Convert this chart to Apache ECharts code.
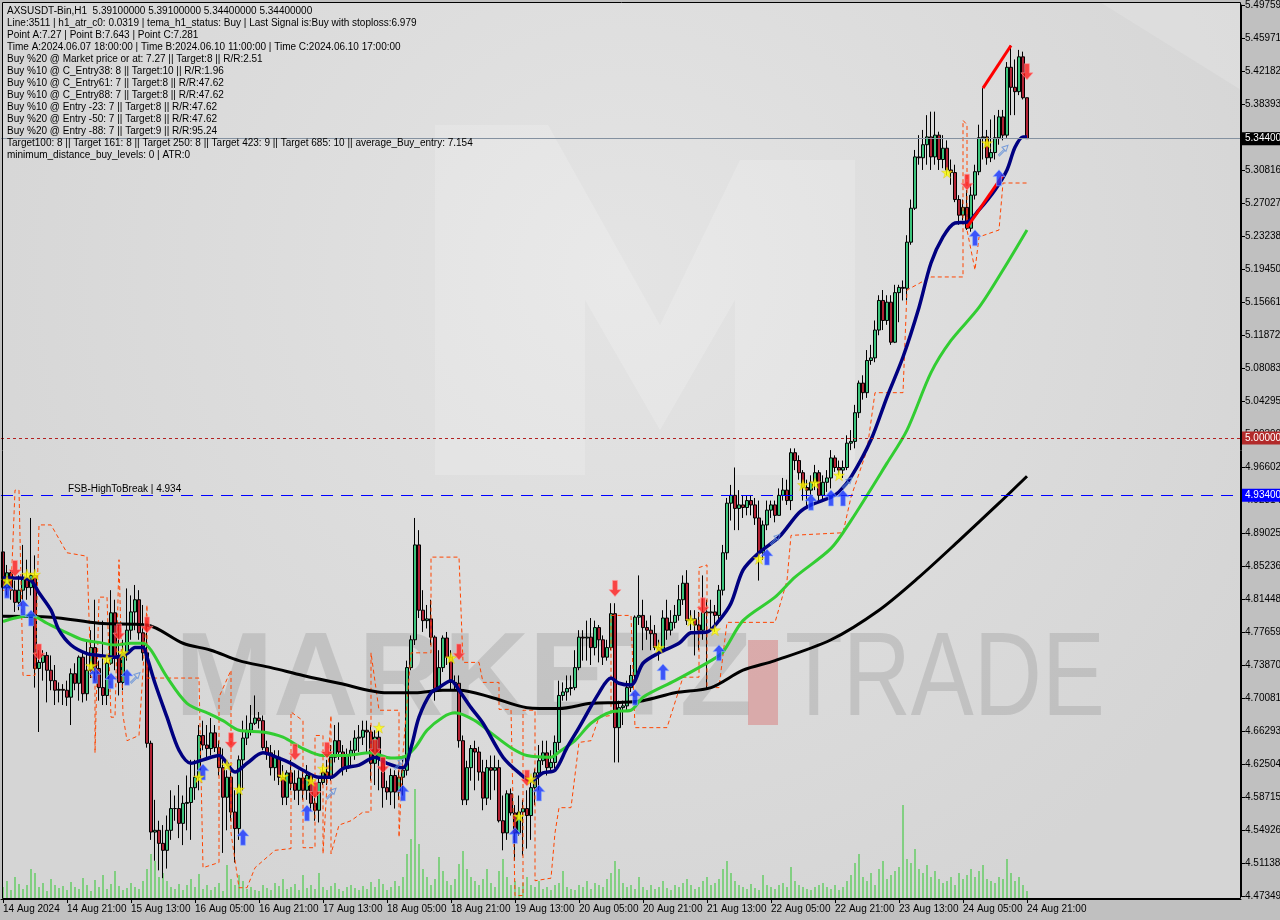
<!DOCTYPE html>
<html><head><meta charset="utf-8">
<script src="https://cdn.jsdelivr.net/npm/echarts@6/dist/echarts.min.js"></script>
<style>html,body{margin:0;padding:0;background:#c0c0c0}#c{width:1280px;height:920px}</style>
</head><body><div id="c"></div>
<script>
const timeTicks = ['14 Aug 2024','14 Aug 21:00','15 Aug 13:00','16 Aug 05:00','16 Aug 21:00','17 Aug 13:00','18 Aug 05:00','18 Aug 21:00','19 Aug 13:00','20 Aug 05:00','20 Aug 21:00','21 Aug 13:00','22 Aug 05:00','22 Aug 21:00','23 Aug 13:00','24 Aug 05:00','24 Aug 21:00'];
const yTickLabels = ['4.473494','4.511381','4.549268','4.587156','4.625043','4.662930','4.700818','4.738705','4.776593','4.814480','4.852367','4.890254','4.928147','4.966021','5.003909','5.042950','5.080839','5.118726','5.156613','5.194500','5.232388','5.270275','5.308162','5.346050','5.383937','5.421824','5.459712','5.497599'];
const firstOpen = 4.869;
const closes = [4.828,4.845,4.825,4.811,4.825,4.839,4.828,4.842,4.735,4.742,
4.750,4.733,4.721,4.710,4.711,4.710,4.702,4.729,4.718,4.748,
4.706,4.733,4.759,4.735,4.713,4.704,4.741,4.799,4.748,4.719,
4.753,4.779,4.800,4.814,4.776,4.753,4.649,4.547,4.549,4.534,
4.526,4.549,4.574,4.574,4.557,4.580,4.581,4.598,4.610,4.658,
4.647,4.643,4.661,4.644,4.621,4.587,4.610,4.570,4.551,4.630,
4.655,4.664,4.672,4.678,4.675,4.644,4.638,4.621,4.633,4.610,
4.587,4.615,4.603,4.595,4.609,4.595,4.612,4.580,4.572,4.604,
4.616,4.609,4.633,4.652,4.639,4.620,4.635,4.641,4.655,4.656,
4.664,4.662,4.626,4.656,4.632,4.598,4.593,4.612,4.593,4.610,
4.618,4.736,4.768,4.877,4.802,4.790,4.792,4.771,4.712,4.736,
4.770,4.748,4.719,4.718,4.652,4.584,4.621,4.643,4.639,4.616,
4.586,4.621,4.618,4.621,4.560,4.546,4.591,4.569,4.546,4.570,
4.574,4.566,4.598,4.615,4.629,4.638,4.621,4.627,4.650,4.704,
4.708,4.712,4.713,4.736,4.771,4.770,4.771,4.759,4.782,4.768,
4.748,4.759,4.798,4.667,4.690,4.692,4.713,4.727,4.794,4.796,
4.782,4.779,4.775,4.759,4.756,4.793,4.779,4.788,4.796,4.814,
4.833,4.790,4.792,4.785,4.779,4.800,4.799,4.800,4.796,4.825,
4.868,4.925,4.934,4.919,4.923,4.920,4.928,4.923,4.908,4.868,
4.900,4.917,4.923,4.911,4.934,4.940,4.928,4.983,4.974,4.960,
4.943,4.940,4.949,4.960,4.934,4.949,4.954,4.977,4.966,4.963,
4.966,4.994,4.996,5.029,5.063,5.052,5.089,5.092,5.124,5.158,
5.135,5.156,5.110,5.167,5.173,5.172,5.225,5.264,5.323,5.322,
5.337,5.346,5.323,5.348,5.320,5.333,5.308,5.305,5.274,5.256,
5.265,5.241,5.279,5.306,5.345,5.346,5.322,5.328,5.345,5.369,
5.348,5.426,5.403,5.398,5.438,5.391,5.344];
const highs = [4.894,4.854,4.848,4.836,4.842,4.877,4.860,4.908,4.865,4.756,
4.756,4.754,4.750,4.739,4.719,4.717,4.721,4.735,4.741,4.750,
4.754,4.768,4.779,4.814,4.744,4.790,4.750,4.825,4.814,4.785,
4.768,4.827,4.819,4.831,4.825,4.808,4.785,4.652,4.584,4.560,
4.555,4.566,4.595,4.589,4.601,4.589,4.612,4.630,4.630,4.670,
4.675,4.670,4.678,4.670,4.652,4.643,4.618,4.624,4.595,4.635,
4.675,4.681,4.693,4.704,4.685,4.681,4.652,4.647,4.641,4.641,
4.624,4.618,4.630,4.618,4.618,4.618,4.624,4.612,4.589,4.609,
4.624,4.630,4.647,4.670,4.673,4.647,4.643,4.652,4.664,4.670,
4.675,4.675,4.670,4.664,4.664,4.635,4.606,4.620,4.618,4.618,
4.630,4.744,4.773,4.908,4.894,4.825,4.808,4.814,4.773,4.756,
4.773,4.777,4.756,4.727,4.727,4.658,4.629,4.647,4.652,4.645,
4.630,4.630,4.635,4.635,4.630,4.589,4.595,4.597,4.578,4.589,
4.584,4.595,4.606,4.620,4.647,4.652,4.652,4.641,4.658,4.721,
4.719,4.727,4.727,4.756,4.779,4.779,4.790,4.793,4.790,4.785,
4.773,4.768,4.810,4.810,4.698,4.698,4.721,4.739,4.796,4.842,
4.814,4.790,4.796,4.785,4.768,4.802,4.814,4.802,4.808,4.831,
4.842,4.848,4.802,4.802,4.800,4.842,4.814,4.814,4.808,4.831,
4.877,4.931,4.946,4.966,4.940,4.934,4.934,4.934,4.931,4.928,
4.905,4.928,4.928,4.928,4.942,4.954,4.952,4.988,4.988,4.980,
4.963,4.952,4.957,4.969,4.963,4.957,4.963,4.986,4.980,4.974,
4.974,5.003,5.009,5.038,5.066,5.072,5.101,5.107,5.135,5.164,
5.170,5.164,5.164,5.176,5.176,5.181,5.233,5.274,5.331,5.348,
5.354,5.371,5.375,5.375,5.352,5.348,5.342,5.320,5.314,5.279,
5.274,5.285,5.291,5.314,5.360,5.402,5.354,5.366,5.371,5.377,
5.377,5.432,5.451,5.435,5.446,5.444,5.391];
const lows = [4.823,4.819,4.814,4.800,4.802,4.814,4.814,4.819,4.713,4.662,
4.721,4.696,4.710,4.693,4.696,4.693,4.692,4.670,4.710,4.698,
4.696,4.698,4.724,4.721,4.698,4.693,4.693,4.739,4.733,4.704,
4.710,4.744,4.768,4.779,4.768,4.744,4.644,4.538,4.514,4.503,
4.494,4.505,4.538,4.560,4.540,4.532,4.549,4.538,4.584,4.595,
4.641,4.630,4.635,4.639,4.612,4.523,4.549,4.560,4.512,4.538,
4.595,4.647,4.658,4.670,4.666,4.641,4.630,4.612,4.606,4.601,
4.578,4.578,4.595,4.584,4.578,4.584,4.584,4.572,4.560,4.558,
4.601,4.601,4.606,4.627,4.630,4.612,4.616,4.624,4.630,4.639,
4.647,4.639,4.606,4.601,4.595,4.575,4.584,4.578,4.574,4.584,
4.589,4.612,4.733,4.762,4.793,4.777,4.781,4.762,4.698,4.708,
4.731,4.739,4.710,4.710,4.644,4.578,4.578,4.606,4.595,4.606,
4.572,4.578,4.584,4.595,4.558,4.526,4.538,4.566,4.514,4.543,
4.520,4.528,4.538,4.578,4.595,4.624,4.612,4.618,4.620,4.641,
4.698,4.698,4.704,4.710,4.733,4.744,4.744,4.739,4.750,4.742,
4.739,4.744,4.756,4.627,4.627,4.670,4.687,4.708,4.721,4.785,
4.756,4.768,4.756,4.756,4.744,4.754,4.768,4.773,4.781,4.790,
4.808,4.785,4.779,4.750,4.756,4.768,4.712,4.779,4.777,4.790,
4.819,4.860,4.905,4.894,4.894,4.908,4.911,4.911,4.900,4.836,
4.860,4.894,4.908,4.903,4.911,4.928,4.923,4.917,4.963,4.952,
4.928,4.919,4.934,4.940,4.928,4.928,4.938,4.942,4.961,4.957,
4.954,4.963,4.986,4.988,5.023,5.044,5.046,5.084,5.087,5.118,
5.124,5.130,5.107,5.109,5.133,5.158,5.158,5.222,5.262,5.314,
5.308,5.314,5.308,5.314,5.308,5.310,5.302,5.291,5.271,5.245,
5.250,5.239,5.237,5.274,5.302,5.320,5.314,5.317,5.320,5.337,
5.342,5.345,5.371,5.371,5.394,5.389,5.344];
const volumes = [12,18,9,22,15,10,14,30,26,12,16,8,20,14,11,13,
9,17,12,10,21,14,8,19,12,24,10,15,28,13,9,11,
16,12,10,18,30,45,38,22,26,18,12,10,15,9,14,20,
12,25,10,14,9,12,16,8,34,20,14,24,18,10,12,9,
8,14,11,9,16,13,20,10,12,15,9,24,11,14,10,26,
12,9,13,16,10,8,12,14,11,9,13,10,17,12,20,15,
9,12,18,13,22,45,60,110,55,30,22,14,20,42,28,18,
14,20,35,48,30,22,18,14,20,30,16,12,28,40,22,14,
18,12,16,22,14,12,18,10,12,9,14,16,28,12,10,9,
14,12,18,10,16,14,12,20,26,38,30,16,12,14,10,22,
12,9,14,10,12,18,11,9,14,12,16,20,14,10,12,18,
22,14,16,20,30,38,26,18,14,12,10,15,11,9,24,14,
12,10,14,16,12,32,18,14,12,10,9,12,14,16,12,10,
14,9,12,18,24,36,45,22,18,26,14,30,38,20,24,28,
32,94,40,36,50,30,26,34,22,28,20,16,18,22,14,26,
20,24,30,22,28,34,20,18,16,22,20,40,26,18,22,14,
8];
const maSlow = [[0,4.795],[12,4.794],[24,4.787],[36,4.785],[45,4.764],[52,4.756],[59,4.744],[67,4.736],[75,4.727],[84,4.718],[96,4.707],[103,4.707],[110,4.710],[114,4.710],[122,4.702],[131,4.690],[139,4.689],[147,4.695],[154,4.696],[160,4.698],[168,4.707],[177,4.713],[185,4.733],[193,4.744],[207,4.768],[219,4.802],[229,4.840],[239,4.882],[249,4.925],[256,4.956]];
const maMid = [[0,4.789],[3,4.793],[7,4.796],[11,4.787],[16,4.776],[20,4.768],[24,4.765],[28,4.762],[32,4.764],[35,4.764],[37,4.756],[41,4.725],[46,4.695],[52,4.682],[55,4.675],[59,4.664],[65,4.662],[70,4.656],[75,4.643],[80,4.635],[85,4.635],[92,4.638],[97,4.632],[100,4.633],[103,4.644],[106,4.664],[110,4.679],[113,4.684],[118,4.675],[122,4.661],[127,4.644],[131,4.635],[137,4.633],[139,4.639],[143,4.652],[147,4.672],[152,4.685],[157,4.687],[160,4.702],[168,4.721],[177,4.744],[180,4.754],[185,4.790],[193,4.817],[198,4.840],[207,4.873],[212,4.905],[221,4.971],[226,5.009],[232,5.075],[237,5.112],[244,5.150],[250,5.193],[256,5.239]];
const maFast = [[0,4.839],[4,4.839],[7,4.836],[9,4.822],[12,4.802],[14,4.779],[17,4.762],[21,4.752],[24,4.750],[28,4.748],[31,4.752],[33,4.759],[35,4.759],[36,4.748],[38,4.718],[41,4.679],[44,4.641],[47,4.626],[50,4.630],[54,4.635],[58,4.616],[61,4.626],[65,4.638],[69,4.632],[72,4.626],[75,4.618],[79,4.610],[82,4.610],[85,4.620],[89,4.624],[93,4.633],[96,4.626],[100,4.621],[102,4.644],[104,4.679],[107,4.707],[109,4.713],[112,4.721],[114,4.710],[117,4.690],[120,4.672],[125,4.633],[129,4.615],[132,4.606],[135,4.615],[138,4.618],[141,4.644],[144,4.667],[149,4.707],[152,4.724],[154,4.718],[157,4.716],[160,4.741],[164,4.753],[169,4.764],[172,4.776],[176,4.777],[179,4.790],[182,4.810],[185,4.848],[189,4.868],[194,4.886],[199,4.914],[202,4.923],[207,4.932],[209,4.938],[212,4.955],[217,4.998],[221,5.047],[225,5.093],[229,5.150],[232,5.201],[235,5.231],[238,5.247],[241,5.248],[244,5.262],[248,5.285],[251,5.308],[253,5.334],[255,5.346],[256,5.346]];
const stopLine = [[0,4.825],[2,4.825],[3,4.940],[4,4.940],[5,4.727],[8,4.727],[9,4.900],[12,4.900],[16,4.868],[21,4.864],[22,4.725],[23,4.725],[23,4.638],[24,4.817],[26,4.817],[27,4.679],[28,4.679],[29,4.860],[30,4.681],[31,4.652],[34,4.658],[36,4.808],[36,4.724],[49,4.724],[50,4.506],[54,4.512],[54,4.702],[57,4.733],[57,4.546],[59,4.483],[61,4.483],[63,4.506],[68,4.526],[72,4.528],[72,4.685],[75,4.675],[75,4.529],[78,4.529],[78,4.658],[80,4.658],[80,4.522],[82,4.681],[82,4.522],[84,4.555],[87,4.560],[90,4.570],[92,4.570],[92,4.753],[94,4.687],[99,4.687],[99,4.541],[100,4.638],[102,4.753],[107,4.753],[107,4.863],[114,4.863],[115,4.742],[119,4.742],[120,4.719],[124,4.719],[124,4.688],[127,4.688],[128,4.474],[130,4.474],[130,4.687],[133,4.687],[133,4.491],[137,4.494],[138,4.546],[139,4.575],[142,4.575],[144,4.650],[147,4.652],[149,4.679],[152,4.681],[152,4.796],[157,4.796],[158,4.667],[166,4.667],[170,4.725],[174,4.725],[174,4.851],[176,4.854],[176,4.713],[179,4.713],[181,4.788],[193,4.788],[196,4.836],[197,4.888],[210,4.891],[212,4.932],[216,4.986],[218,5.052],[225,5.052],[226,5.170],[232,5.185],[240,5.185],[240,5.365],[241,5.360],[241,5.239],[243,5.193],[244,5.231],[249,5.239],[250,5.293],[256,5.293]];
const upArrows = [[1,4.825],[5,4.805],[7,4.793],[23,4.727],[27,4.721],[31,4.725],[50,4.616],[60,4.541],[76,4.569],[100,4.592],[128,4.543],[134,4.592],[158,4.702],[165,4.731],[179,4.753],[191,4.863],[202,4.926],[207,4.931],[210,4.931],[243,5.230],[249,5.299]];
const downArrows = [[3,4.850],[9,4.754],[29,4.777],[36,4.785],[57,4.652],[73,4.639],[78,4.595],[81,4.641],[93,4.644],[95,4.624],[114,4.754],[131,4.609],[153,4.827],[175,4.807],[241,5.294],[256,5.421]];
const hollowArrows = [[33,4.724],[82,4.591],[99,4.625],[193,4.883],[211,4.948],[250,5.330]];
const stars = [[1,4.836],[6,4.843],[8,4.843],[22,4.738],[26,4.746],[30,4.753],[49,4.610],[56,4.624],[59,4.596],[70,4.611],[77,4.606],[80,4.620],[94,4.667],[112,4.747],[129,4.565],[132,4.608],[164,4.759],[172,4.790],[178,4.779],[189,4.861],[200,4.946],[203,4.948],[209,4.957],[236,5.305],[246,5.339]];
const trendLineA = [[245,5.402],[252,5.451]];
const trendLineB = [[241,5.242],[250,5.302]];
const currentPrice = 5.344, roundLevel = 5.0, fsbLevel = 4.934;
const infoLines = [
'AXSUSDT-Bin,H1  5.39100000 5.39100000 5.34400000 5.34400000',
'Line:3511 | h1_atr_c0: 0.0319 | tema_h1_status: Buy | Last Signal is:Buy with stoploss:6.979',
'Point A:7.27 | Point B:7.643 | Point C:7.281',
'Time A:2024.06.07 18:00:00 | Time B:2024.06.10 11:00:00 | Time C:2024.06.10 17:00:00',
'Buy %20 @ Market price or at: 7.27 || Target:8 || R/R:2.51',
'Buy %10 @ C_Entry38: 8 || Target:10 || R/R:1.96',
'Buy %10 @ C_Entry61: 7 || Target:8 || R/R:47.62',
'Buy %10 @ C_Entry88: 7 || Target:8 || R/R:47.62',
'Buy %10 @ Entry -23: 7 || Target:8 || R/R:47.62',
'Buy %20 @ Entry -50: 7 || Target:8 || R/R:47.62',
'Buy %20 @ Entry -88: 7 || Target:9 || R/R:95.24',
'Target100: 8 || Target 161: 8 || Target 250: 8 || Target 423: 9 || Target 685: 10 || average_Buy_entry: 7.154',
'minimum_distance_buy_levels: 0 | ATR:0'
];

const N_CAT = 310;
const cats = Array.from({length: N_CAT}, (_, i) => i);
const candleData = closes.map((c, i) => [i === 0 ? firstOpen : closes[i - 1], c, lows[i], highs[i]]);
const yMin = 4.473494, yStep = 0.0379297, yMax = yMin + 27 * yStep;
const isLabelIdx = (i) => i % 16 === 0 && i <= 256;
const FONT = '"Liberation Sans", Arial, sans-serif';
const UP = 'path://M5 0 L10 5.5 L7 5.5 L7 13 L3 13 L3 5.5 L0 5.5 Z';
const DOWN = 'path://M3 0 L7 0 L7 7.5 L10 7.5 L5 13 L0 7.5 L3 7.5 Z';
const HOLLOW = 'path://M0 10 L6 4 L4 2 L10 0 L8 6 L6 4 M1 11 L7 5';
const STAR = 'path://M5 0 L6.2 3.6 L10 3.6 L6.9 5.9 L8.1 9.5 L5 7.3 L1.9 9.5 L3.1 5.9 L0 3.6 L3.8 3.6 Z';

const chart = echarts.init(document.getElementById('c'), null, {renderer: 'canvas', width: 1280, height: 920});
const lvlLabel = (bg) => ({show: true, position: 'end', distance: 1, formatter: (p) => Number(p.data.yAxis).toFixed(6), color: '#fff', backgroundColor: bg, padding: [2, 3, 1, 3], fontSize: 10, fontFamily: FONT});
chart.setOption({
  backgroundColor: '#c0c0c0',
  animation: false,
  grid: [
    {left: 1, right: 39, top: 5, bottom: 24, containLabel: false, outerBoundsMode: 'none'},
    {left: 1, right: 39, top: 699, bottom: 21, containLabel: false, outerBoundsMode: 'none'}
  ],
  xAxis: [
    {type: 'category', data: cats, gridIndex: 0, boundaryGap: true, axisLine: {show: false}, axisTick: {show: false}, axisLabel: {show: false}, splitLine: {show: false}},
    {type: 'category', data: cats, gridIndex: 1, boundaryGap: true,
      axisLine: {show: true, lineStyle: {color: '#000', width: 1}},
      axisTick: {show: true, alignWithLabel: true, interval: (i) => isLabelIdx(i), length: 4, lineStyle: {color: '#000'}},
      axisLabel: {interval: (i) => isLabelIdx(i), formatter: (v) => timeTicks[Math.round(Number(v) / 16)] || '', align: 'left', margin: 5, color: '#000', fontSize: 10, fontFamily: FONT, hideOverlap: false},
      splitLine: {show: false}}
  ],
  yAxis: [
    {type: 'value', gridIndex: 0, position: 'right', min: yMin, max: yMax, interval: yStep,
      axisLine: {show: true, lineStyle: {color: '#000'}},
      axisTick: {show: true, length: 4, lineStyle: {color: '#000'}},
      axisLabel: {formatter: (v) => yTickLabels[Math.round((v - yMin) / yStep)] || '', margin: 4, color: '#000', fontSize: 10, fontFamily: FONT, hideOverlap: false},
      splitLine: {show: false}},
    {type: 'value', gridIndex: 1, min: 0, max: 200, show: false}
  ],
  series: [
    {type: 'bar', xAxisIndex: 1, yAxisIndex: 1, data: volumes, barWidth: 1, itemStyle: {color: '#2ec82e'}, z: 1, silent: true},
    {type: 'candlestick', xAxisIndex: 0, yAxisIndex: 0, data: candleData, barWidth: 3,
      itemStyle: {color: '#3cc47c', color0: '#b22234', borderColor: '#000', borderColor0: '#000', borderWidth: 1}, z: 2,
      markLine: {symbol: 'none', silent: true, animation: false, precision: 6, data: [
        {yAxis: currentPrice, lineStyle: {color: '#8491a0', type: 'solid', width: 1}, label: lvlLabel('#000')},
        {yAxis: roundLevel, lineStyle: {color: '#b22222', type: [3, 3], width: 1}, label: lvlLabel('#b22a2a')},
        {yAxis: fsbLevel, lineStyle: {color: '#0000ff', type: [12, 8], width: 1}, label: lvlLabel('#0000ff')}
      ]}},
    {type: 'line', data: stopLine, symbol: 'none', lineStyle: {color: '#ff4500', width: 1, type: [4, 3]}, z: 3, silent: true},
    {type: 'line', data: maSlow, symbol: 'none', smooth: 0.3, lineStyle: {color: '#000', width: 3}, z: 4, silent: true},
    {type: 'line', data: maMid, symbol: 'none', smooth: 0.3, lineStyle: {color: '#32cd32', width: 3}, z: 4, silent: true},
    {type: 'line', data: maFast, symbol: 'none', smooth: 0.3, lineStyle: {color: '#000080', width: 3.5}, z: 4, silent: true},
    {type: 'line', data: trendLineA, symbol: 'none', lineStyle: {color: '#ff0000', width: 3}, z: 5, silent: true},
    {type: 'line', data: trendLineB, symbol: 'none', lineStyle: {color: '#ff0000', width: 3}, z: 5, silent: true},
    {type: 'scatter', data: hollowArrows, symbol: HOLLOW, symbolSize: [10, 11], itemStyle: {color: 'rgba(0,0,0,0)', borderColor: '#5a8ad8', borderWidth: 1}, z: 6, silent: true},
    {type: 'scatter', data: upArrows, symbol: UP, symbolSize: [12, 16], itemStyle: {color: '#1432ff', borderColor: '#8fb0ff', borderWidth: 0.8}, z: 6, silent: true},
    {type: 'scatter', data: downArrows, symbol: DOWN, symbolSize: [12, 16], itemStyle: {color: '#ff1e1e', borderColor: '#ff9a9a', borderWidth: 0.8}, z: 6, silent: true},
    {type: 'scatter', data: stars, symbol: STAR, symbolSize: 11, itemStyle: {color: '#ffff00', borderColor: '#d8c000', borderWidth: 0.5}, z: 6, silent: true}
  ],
  graphic: [
    {type: 'rect', shape: {x: 2, y: 2, width: 1239, height: 897}, z: -10, silent: true,
      style: {fill: new echarts.graphic.RadialGradient(0.5, 0.3, 0.8, [{offset: 0, color: '#e4e4e4'}, {offset: 1, color: '#d5d5d5'}])}},
    {type: 'polygon', z: -9, silent: true, shape: {points: [[435,125],[548,125],[660,325],[740,160],[855,160],[855,475],[735,475],[735,300],[660,430],[585,300],[585,475],[435,475]]}, style: {fill: 'rgba(255,255,255,0.18)'}},
    {type: 'polygon', z: -9, silent: true, shape: {points: [[1100,2],[1241,2],[1241,90]]}, style: {fill: 'rgba(255,255,255,0.15)'}},
    {type: 'text', x: 175, y: 682, z: -8, silent: true, style: {text: 'MARKETZ', font: 'bold 118px "Liberation Sans", Arial, sans-serif', fill: 'rgba(150,150,150,0.34)', verticalAlign: 'middle'}},
    {type: 'rect', z: -8, silent: true, shape: {x: 748, y: 640, width: 30, height: 85}, style: {fill: 'rgba(215,110,110,0.45)'}},
    {type: 'text', x: 785, y: 682, scaleX: 0.8, z: -8, silent: true, style: {text: 'TRADE', font: '118px "Liberation Sans", Arial, sans-serif', fill: 'rgba(150,150,150,0.34)', verticalAlign: 'middle'}},
    {type: 'text', x: 7, y: 5, z: 100, silent: true, style: {text: infoLines.join('\n'), font: '10px ' + FONT, fill: '#000', lineHeight: 12}},
    {type: 'text', x: 68, y: 489, z: 100, silent: true, style: {text: 'FSB-HighToBreak | ' + fsbLevel, font: '10px ' + FONT, fill: '#000', verticalAlign: 'middle'}},
    {type: 'rect', z: 100, silent: true, shape: {x: 2.5, y: 2.5, width: 1238, height: 896}, style: {fill: 'none', stroke: '#000', lineWidth: 1}}
  ]
});
</script></body></html>
